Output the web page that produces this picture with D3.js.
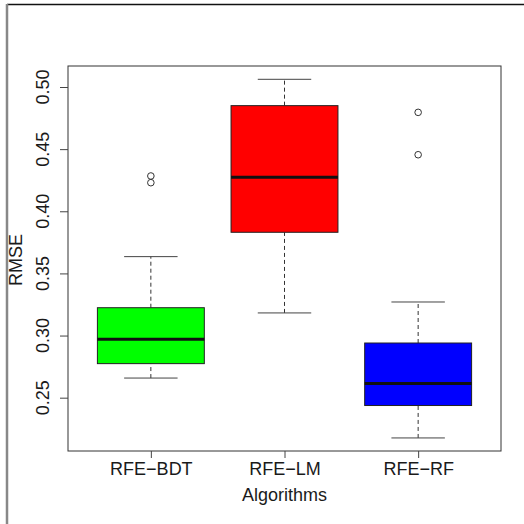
<!DOCTYPE html>
<html>
<head>
<meta charset="utf-8">
<script src="https://cdn.jsdelivr.net/npm/d3@7"></script>
<style>
  html, body { margin: 0; padding: 0; background: #fff; }
  svg { display: block; font-family: "Liberation Sans", Arial, Helvetica, sans-serif; }
</style>
</head>
<body>
<svg id="chart" width="524" height="524"></svg>
<script>
// RMSE distribution per feature-selection algorithm
const algorithms = ["RFE\u2212BDT", "RFE\u2212LM", "RFE\u2212RF"];
const whiskerLow  = [0.2658, 0.3182, 0.2176];
const quartile1   = [0.2774, 0.3831, 0.2437];
const medians     = [0.2970, 0.4273, 0.2614];
const quartile3   = [0.3224, 0.4850, 0.2940];
const whiskerHigh = [0.3635, 0.5062, 0.3270];
const outliers    = [[0.4284, 0.4230], [], [0.4796, 0.4455]];
const fills       = ["#00ff00", "#ff0000", "#0000ff"];
const yTicks      = [0.25, 0.30, 0.35, 0.40, 0.45, 0.50];

const svg = d3.select("#chart");
const fontSize = 18;

// page frame
svg.append("line").attr("x1", 7).attr("x2", 524).attr("y1", 4.5).attr("y2", 4.5)
  .attr("stroke", "#111").attr("stroke-width", 1.6);
svg.append("line").attr("x1", 7).attr("x2", 7).attr("y1", 4).attr("y2", 524)
  .attr("stroke", "#888").attr("stroke-width", 2.5);

const plot = { left: 68, right: 501, top: 66, bottom: 451 };

const x = d3.scaleLinear().domain([0.38, 3.62]).range([plot.left, plot.right]);
const y = d3.scaleLinear().domain([0.2071, 0.5169]).range([plot.bottom, plot.top]);

const boxes = algorithms.map((name, i) => ({
  name, pos: i + 1,
  lo: whiskerLow[i], q1: quartile1[i], med: medians[i], q3: quartile3[i], hi: whiskerHigh[i],
  out: outliers[i], fill: fills[i]
}));

const halfBox = 0.4, halfCap = 0.2;
const g = svg.append("g");

boxes.forEach(b => {
  const cx = x(b.pos);
  // dashed whiskers
  [[b.q3, b.hi], [b.lo, b.q1]].forEach(([a, c]) => {
    g.append("line").attr("x1", cx).attr("x2", cx).attr("y1", y(a)).attr("y2", y(c))
      .attr("stroke", "#333").attr("stroke-width", 1).attr("stroke-dasharray", "4,3");
  });
  // whisker caps
  [b.lo, b.hi].forEach(v => {
    g.append("line").attr("x1", x(b.pos - halfCap)).attr("x2", x(b.pos + halfCap))
      .attr("y1", y(v)).attr("y2", y(v)).attr("stroke", "#444").attr("stroke-width", 1);
  });
  // box
  g.append("rect").attr("x", x(b.pos - halfBox)).attr("width", x(b.pos + halfBox) - x(b.pos - halfBox))
    .attr("y", y(b.q3)).attr("height", y(b.q1) - y(b.q3))
    .attr("fill", b.fill).attr("stroke", "#222").attr("stroke-width", 1);
  // median
  g.append("line").attr("x1", x(b.pos - halfBox)).attr("x2", x(b.pos + halfBox))
    .attr("y1", y(b.med)).attr("y2", y(b.med)).attr("stroke", "#111").attr("stroke-width", 3);
  // outliers
  b.out.forEach(v => {
    g.append("circle").attr("cx", cx).attr("cy", y(v)).attr("r", 3.3)
      .attr("fill", "none").attr("stroke", "#333").attr("stroke-width", 1);
  });
});

// plot border
svg.append("rect").attr("x", plot.left).attr("y", plot.top)
  .attr("width", plot.right - plot.left).attr("height", plot.bottom - plot.top)
  .attr("fill", "none").attr("stroke", "#333").attr("stroke-width", 1);

// y axis
const yAxis = svg.append("g").attr("transform", `translate(${plot.left},0)`)
  .call(d3.axisLeft(y).tickValues(yTicks).tickSize(8).tickFormat(d3.format(".2f")));
yAxis.select(".domain").remove();
yAxis.selectAll(".tick line").attr("stroke", "#444");
yAxis.selectAll(".tick text").remove();
yTicks.forEach(t => {
  svg.append("text").attr("transform", `translate(49,${y(t)}) rotate(-90)`)
    .attr("text-anchor", "middle").attr("font-size", fontSize).attr("fill", "#1a1a1a")
    .text(d3.format(".2f")(t));
});

// x axis
const xAxis = svg.append("g").attr("transform", `translate(0,${plot.bottom})`)
  .call(d3.axisBottom(x).tickValues(boxes.map(b => b.pos)).tickSize(7)
    .tickFormat((d, i) => algorithms[i]));
xAxis.select(".domain").remove();
xAxis.selectAll(".tick line").attr("stroke", "#444");
xAxis.selectAll(".tick text").attr("font-size", fontSize).attr("fill", "#1a1a1a")
  .attr("font-family", "Liberation Sans, Arial, sans-serif").attr("dy", null).attr("y", 24);

// axis titles
svg.append("text").attr("x", (plot.left + plot.right) / 2).attr("y", 501)
  .attr("text-anchor", "middle").attr("font-size", fontSize).attr("fill", "#1a1a1a").text("Algorithms");
svg.append("text").attr("transform", `translate(22,260) rotate(-90)`)
  .attr("text-anchor", "middle").attr("font-size", fontSize).attr("fill", "#1a1a1a").text("RMSE");
</script>
</body>
</html>
